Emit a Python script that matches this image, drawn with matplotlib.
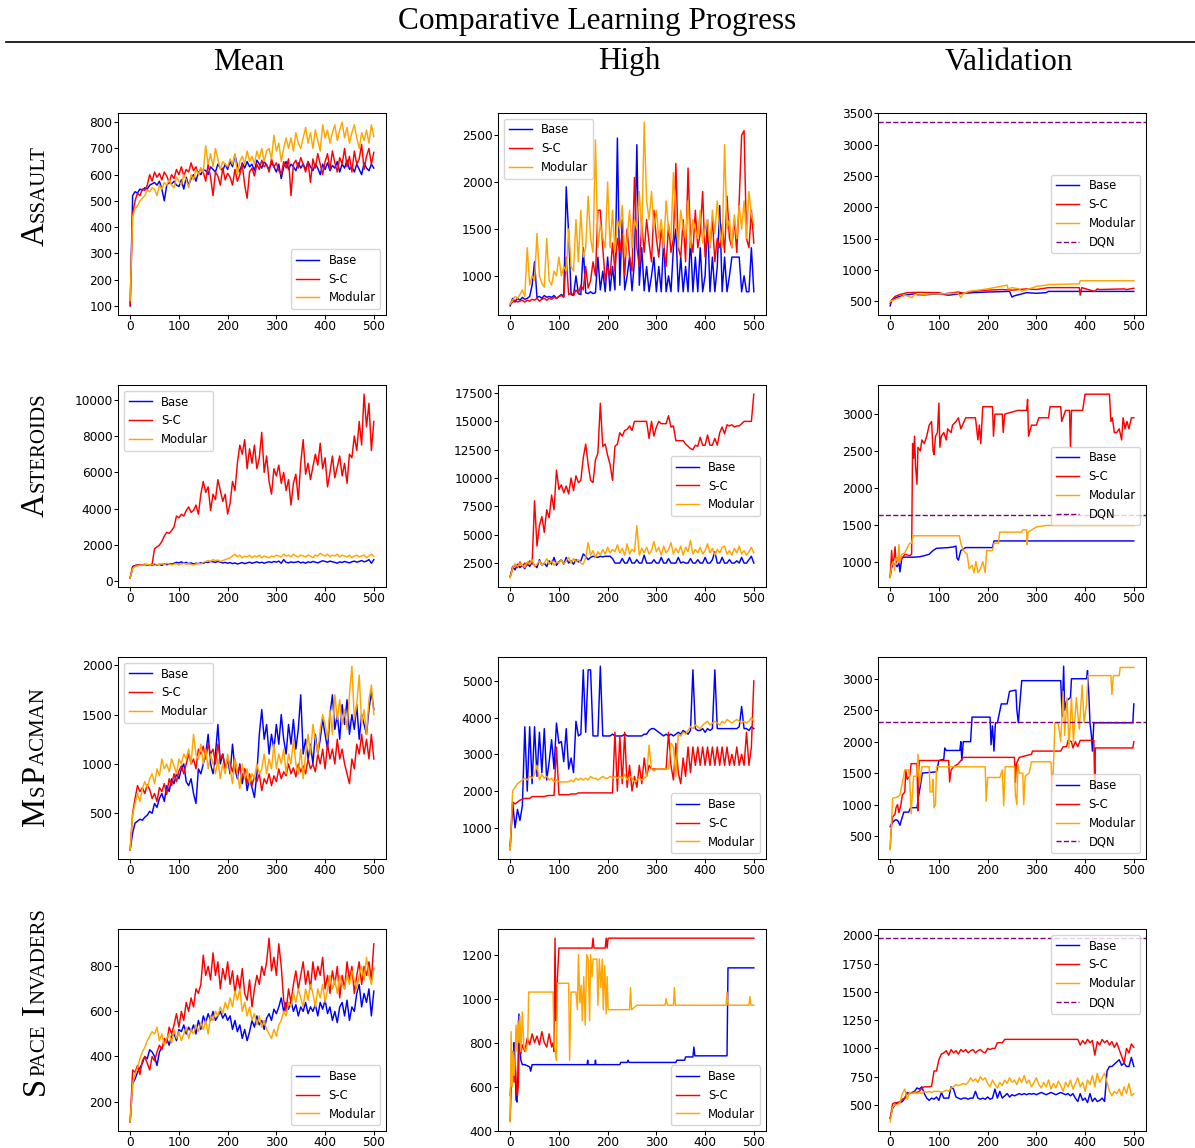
import numpy as np
import matplotlib
matplotlib.use("Agg")
import matplotlib.pyplot as plt
from matplotlib.lines import Line2D

W, H = 1195, 1148
SERIF = "Liberation Serif"

# ---------------- data (values every 5 episodes, 0..500) ----------------
assault_mean_base = [100,520,535,530,545,540,550,545,560,565, 570,560,575,545,500,560,570,565,575,560,
    555,580,545,590,560,585,600,575,610,600, 620,615,600,630,620,610,640,625,615,640,
    620,650,630,675,635,610,645,625,650,630, 640,615,655,640,625,650,635,620,645,630,
    610,640,585,630,650,620,640,630,615,645, 625,640,620,650,630,615,640,625,600,640,
    620,645,615,635,625,650,610,640,625,655, 620,630,610,640,620,600,645,625,615,640, 625]
assault_mean_sc = [100,450,500,530,520,545,540,560,600,575, 610,590,605,580,610,595,570,600,585,620,
    600,630,595,620,610,645,615,630,600,625, 610,575,640,590,520,610,595,560,625,580,
    605,590,560,620,575,600,640,560,510,610, 625,595,640,620,655,630,640,610,660,630,
    645,615,600,650,625,660,520,640,655,625, 665,640,610,650,570,660,625,680,640,600,
    650,680,620,690,645,610,665,640,700,630, 670,610,690,640,660,715,620,670,700,640, 685]
assault_mean_mod = [120,440,470,480,500,510,520,540,535,550, 545,520,560,545,570,560,580,560,550,590,
    575,560,600,580,550,600,580,620,600,625, 610,710,640,680,630,700,660,620,650,640,
    630,660,640,680,600,650,670,640,690,650, 670,640,690,660,700,650,690,700,660,750,
    690,720,650,700,740,700,740,690,760,720, 700,740,780,720,760,700,770,730,690,790,
    740,770,720,760,790,730,770,800,740,780, 720,760,790,740,700,760,730,770,720,790, 745]

assault_high_base = [680,760,720,760,740,770,750,760,780,900, 1150,770,780,760,790,770,780,770,790,760,
    780,800,780,1950,1450,800,790,1000,810,800, 1300,820,810,830,810,820,1200,850,1050,830,
    1200,840,1100,850,2470,900,1600,850,1000,1200, 840,1150,2400,900,1300,840,1100,830,1000,1200,
    830,1100,830,1400,830,1000,830,1300,1500,830, 1200,830,1100,830,1400,830,1200,830,1300,830,
    1000,1600,830,1200,830,1100,1750,830,1200,830, 1000,1200,1200,1200,1200,830,1000,830,830,1300, 830]
assault_high_sc = [700,720,740,720,730,740,720,740,730,750, 740,760,730,750,760,740,760,750,770,760,
    780,790,770,1200,800,820,790,850,810,900, 850,1100,870,950,1150,1000,1700,1700,1300,950,
    1100,1000,1350,1050,1400,1250,1450,1000,1500,1200, 1050,2050,1300,1100,1550,1250,1600,1350,1150,1700,
    1400,1200,1500,1300,1100,1550,1250,1400,2200,1300, 1200,1600,1150,2150,1400,1250,1700,1300,1450,1900,
    1200,1500,1300,1600,1150,1400,1300,1550,1250,1850, 1400,1300,1600,1250,1800,2500,2550,1400,1300,1700, 1350]
assault_high_mod = [700,740,780,760,800,850,780,1300,900,1000, 950,1450,1000,920,880,1400,950,900,1050,1000,
    1200,1000,1100,1050,1500,1100,1050,1600,1150,1700, 1200,1300,1850,1400,1250,2450,1300,1550,1400,1300,
    2000,1300,1700,1250,1600,1500,1750,1200,1400,1700, 1300,1600,1500,1900,1400,2640,1800,1600,1900,1500,
    1700,1400,1600,1300,1800,1500,1400,2100,1600,1300, 1700,1500,1400,1800,1300,1600,1500,1400,1700,1350,
    1500,1600,1300,1700,1450,1800,1500,1300,2400,1500, 1600,1300,1650,1400,1750,1500,1800,1400,1900,1650, 1550]

assault_val_base_x = [0,3,8,12,20,30,40,50,60,80,100,120,150,170,200,245,250,255,270,280,300,320,325,500]
assault_val_base_y = [430,520,540,560,580,600,610,620,600,610,620,600,630,640,650,660,570,590,620,640,630,640,660,660]
assault_val_sc_x = [0,5,10,20,35,60,100,110,140,150,170,200,230,250,280,300,325,388,390,393,420,425,430,480,485,500]
assault_val_sc_y = [470,540,580,610,640,645,640,620,650,630,660,680,690,680,700,690,720,720,600,720,660,700,690,700,690,710]
assault_val_mod_x = [0,10,20,30,45,50,60,80,100,140,145,150,160,200,240,242,250,265,270,300,320,325,388,390,500]
assault_val_mod_y = [500,530,560,600,560,610,600,620,620,630,560,620,660,700,760,700,720,700,660,740,760,770,780,830,830]

asteroids_mean_base = [200,820,880,900,920,880,930,900,920,880, 950,900,940,880,960,920,980,950,1000,1050,
    1020,1080,1000,1050,980,1020,960,1000,980,1030, 1000,1060,1050,1100,1080,1050,1100,1060,1020,1050,
    1000,1040,980,1020,960,1000,1040,980,1020,1060, 1000,1040,1080,1020,1060,1000,1050,1080,1040,1100,
    1060,1120,1000,1200,1050,1020,1080,1040,1060,1100, 1020,1060,1000,1080,1040,1100,1060,1020,1080,1140,
    1100,1060,1120,1080,1050,1000,1080,1040,1100,1060, 1020,1080,1120,1060,1100,1150,1080,1120,1200,1000, 1200]
asteroids_mean_sc = [200,780,850,900,920,880,950,900,920,950, 1800,1900,2000,2200,2500,2700,2650,2800,3000,3600,
    3500,3700,3600,3900,4100,3800,3900,4200,3700,4800, 5500,4900,5200,3900,4800,4500,5600,5000,4400,4800,
    3700,4300,5500,5000,6500,7500,7000,7800,6200,7300, 6500,7500,6200,6800,8200,6000,6900,5500,4800,6200,
    5800,6400,5400,6000,5000,5600,4200,5400,5900,4500, 6500,7800,5900,6500,5600,6300,7000,6400,7600,6200,
    6800,5200,6000,6900,5700,6300,6900,5800,6500,5400, 7000,6800,8000,7200,8800,7500,10300,8500,9800,7200, 8800]
asteroids_mean_mod = [200,700,820,850,900,880,920,950,900,930, 880,920,950,980,930,1000,960,900,950,980,
    920,960,1000,950,980,940,900,960,1000,960, 1050,1100,1150,1100,1200,1150,1180,1100,1150,1200,
    1250,1300,1400,1500,1350,1450,1300,1400,1350,1450, 1300,1400,1350,1450,1300,1400,1350,1300,1400,1350,
    1450,1400,1350,1500,1400,1450,1350,1500,1400,1350, 1450,1400,1350,1450,1400,1300,1450,1400,1550,1450,
    1400,1500,1350,1450,1400,1500,1350,1450,1400,1350, 1450,1300,1400,1450,1350,1400,1450,1300,1400,1500, 1380]

asteroids_high_base = [1300,2200,1900,2400,2100,2300,2000,2500,2200,2600, 2300,2100,2800,2300,2500,2200,2700,2400,3000,2300,
    2600,2800,2400,3000,2500,2700,2400,2800,2600,2700, 3300,3100,2800,3000,3100,3050,3000,3100,3050,3100,
    3100,3100,2900,2500,2500,2500,2900,2500,2500,3000, 2500,2500,2800,2500,2500,3200,2500,2500,2500,2800,
    2500,2500,3000,2500,2500,2900,2500,2500,2500,3000, 2500,2600,2500,2500,2900,2500,2500,2800,2500,2500,
    3000,2500,2500,2800,3500,2500,2500,3000,2500,2500, 2800,2500,2500,2700,2500,3000,2500,2500,2800,3100, 2500]
asteroids_high_sc = [1300,2000,2400,2100,2600,2200,2500,2300,2700,2400, 8000,4000,5800,6600,5200,7200,6500,8500,7200,10700,
    9000,9400,8700,9300,8600,10000,8900,10200,9600,9800, 11800,13000,11200,9800,9600,11600,12200,16600,12800,13000,
    12000,11200,9800,12800,13000,14000,13700,14200,14300,14600, 14200,15000,15000,15000,15000,15000,15000,13500,15000,13700,
    14500,15000,14800,14800,14800,15500,14500,14600,13300,13300, 13300,13300,13000,12800,12600,12500,12900,12800,13600,12900,
    12900,13800,12900,12900,13500,12900,14000,14500,13900,14700, 14600,14700,14500,14600,14600,14800,15000,15000,15000,15000, 17400]
asteroids_high_mod = [1200,2100,2400,2200,2500,2300,2100,2600,2400,2800, 2200,2400,2700,2300,2500,2900,2400,2700,2300,2600,
    2500,2800,2400,2700,3000,2500,2900,2600,2800,2500, 2400,3000,4300,3200,3600,3000,3500,3200,3700,3300,
    3900,3400,3700,3500,4100,3400,3800,3200,4200,3300, 3700,3500,5800,3200,3800,3400,3900,3300,3600,4400,
    3500,3900,3200,4000,3400,3700,4300,3300,3800,3400, 4000,3200,3900,3500,4500,3300,3700,3400,3900,3300,
    3600,4200,3400,3800,3200,3700,3400,3900,4000,3300, 3600,3200,3800,3400,4000,3300,3600,3200,3500,3900, 3400]

asteroids_val_base_x = [0,3,6,10,14,18,20,24,28,50,60,70,80,88,95,120,130,135,137,140,145,150,155,210,213,500]
asteroids_val_base_y = [790,920,950,970,930,980,860,1050,1060,1060,1065,1080,1100,1150,1180,1190,1200,1210,1050,1020,1150,1170,1190,1190,1280,1280]
asteroids_val_sc_x = [0,3,5,8,10,12,15,20,25,30,40,44,46,48,50,52,55,57,62,65,70,75,80,85,88,90,93,97,100,102,105,110,115,118,125,128,135,140,145,155,175,180,183,186,190,210,212,215,230,232,235,262,280,282,284,290,300,305,325,328,350,352,360,368,370,372,395,400,450,453,456,460,465,470,475,478,482,486,490,495,500]
asteroids_val_sc_y = [800,1150,950,1050,1200,980,1050,1000,1050,1100,1080,1100,2600,2400,2700,2300,2050,2550,2500,2650,2600,2700,2850,2900,2500,2450,2700,2750,3150,2550,2700,2750,2650,2800,2750,2850,2900,2950,2800,2950,2950,2650,2850,2600,3100,3100,2700,3000,3000,2750,3000,3050,3050,3200,2700,2850,2850,2950,2950,3100,3100,2900,3050,3050,2550,3050,3050,3270,3270,2900,2950,2750,2750,2800,2650,2950,2800,2900,2800,2950,2950]
asteroids_val_mod_x = [0,3,6,9,12,16,18,20,24,30,36,40,44,47,142,145,150,158,162,168,172,176,180,185,190,195,198,210,213,222,225,270,272,280,281,283,300,320,500]
asteroids_val_mod_y = [780,950,1000,880,1050,1000,1230,1000,1100,1120,1200,1250,1250,1350,1350,1250,1150,1100,900,950,850,1000,850,900,1000,850,1150,1150,1250,1250,1400,1400,1430,1430,1230,1400,1470,1490,1490]

mspacman_mean_base = [130,300,400,420,440,430,460,480,520,500, 600,560,650,700,620,780,720,850,800,900,
    850,950,1000,820,780,850,700,600,950,900, 1000,1100,1300,1000,900,1100,1400,1000,1100,950,
    1050,900,1200,950,850,1000,800,950,730,850, 760,660,900,1300,1550,1250,1400,1100,1300,1150,
    1400,1200,1500,1250,1100,1400,1200,1450,1150,1350, 1700,1100,1250,1050,1200,1000,1300,1100,1250,1450,
    1300,1150,1500,1700,1350,1500,1250,1600,1400,1650, 1300,1500,1350,1600,1250,1500,1400,1300,1550,1730, 1550]
mspacman_mean_sc = [130,500,650,780,720,760,700,790,740,650, 700,620,760,720,800,690,850,780,900,820,
    930,980,900,1000,1100,1000,1050,950,1150,1100, 1180,1050,1200,1100,1150,1000,1200,1050,1100,950,
    1050,1000,920,1050,900,980,870,950,800,900, 780,880,820,900,730,850,800,900,780,880,
    820,950,850,920,880,1000,900,960,870,1000, 920,980,900,1050,950,1000,920,1100,1000,1150,
    950,1200,1050,1150,1000,1250,1050,1150,1000,900, 800,1050,950,1200,1100,1300,1100,1250,1050,1300, 1050]
mspacman_mean_mod = [130,480,600,700,620,750,820,760,850,900, 800,950,880,1050,950,1000,920,1050,980,900,
    1050,1000,1100,1050,1150,1000,1300,1100,1050,1200, 1000,1150,950,1100,1000,900,1050,850,1000,900,
    1100,950,800,1050,900,750,1000,850,950,800, 900,850,1000,900,950,1100,900,1050,950,1200,
    950,1100,1000,1150,900,1100,1000,1250,1000,900, 1150,850,1100,1300,1100,1400,1250,1100,1350,1500,
    1400,1250,1550,1300,1700,1450,1650,1400,1550,1350, 1700,1990,1450,1600,1900,1400,1550,1300,1650,1800, 1500]

mspacman_high_base = [500,1700,1000,1500,1200,1600,3750,2000,3750,2200, 3750,2400,3600,2500,3700,2300,2800,3400,2600,3850,
    3300,3350,2800,3700,2600,2900,2500,3900,3500,3550, 5300,3600,5300,5300,3500,3500,3500,5400,3500,3500,
    3500,3500,3550,3500,3500,3500,3500,3550,3500,3500, 3500,3500,3500,3500,3500,3550,3550,3650,3700,3700,
    3650,3600,3550,3500,3550,3500,3550,3500,3550,3600, 3550,3650,3600,3550,3650,5300,3700,3650,3650,3700,
    3600,3700,3650,3700,5300,3700,3700,3700,3700,3700, 3700,3700,3700,3700,3750,4300,3700,3700,3650,3750, 3700]
mspacman_high_sc = [400,1700,1650,1700,1750,1780,1800,1800,1800,1850, 1850,1850,1850,1850,1850,1870,1880,1880,1880,3200,
    1900,1900,1900,1900,1900,1920,1920,1920,1950,1950, 1950,1950,1950,1950,1950,1950,1950,1950,1950,1950,
    1950,1950,1950,3600,2000,3500,2200,3600,2100,2700, 2000,2400,2100,2700,2200,2900,2400,2700,2600,2600,
    2600,2600,2600,2600,2600,3600,2700,2300,3300,2500, 2200,2900,2400,3200,2500,3200,2700,3200,2700,3200,
    2700,3200,2700,3200,2700,3200,2700,3200,2700,3200, 2700,3000,2700,3200,2700,3000,2700,3600,2700,3200, 5000]
mspacman_high_mod = [400,2000,2100,2200,2250,2300,2350,2300,2400,2350, 2450,2700,2300,2450,2350,2400,2300,2350,2250,2300,
    2250,2250,2250,2250,2250,2300,2250,2350,2300,2350, 2300,2350,2300,2400,2350,2350,2300,2350,2400,2350,
    2350,2400,2350,2400,2350,2400,2350,2450,2300,2400, 2350,2250,2300,2350,2300,2350,2400,3250,2600,2550,
    2600,2600,2600,2600,2600,2600,3300,3200,2400,3550, 3500,3600,3550,3650,3750,3700,3800,3750,3700,3800,
    3850,3900,3800,3850,3900,3850,3800,3900,3850,3950, 3900,3850,3900,3950,3900,3850,3900,3850,3900,4000, 3900]

mspacman_val_base_x = [0,3,8,12,16,20,24,28,38,42,55,58,62,66,95,100,110,112,115,143,145,147,150,165,168,205,207,210,213,216,220,228,240,245,258,260,263,266,270,350,353,356,358,362,370,372,403,405,408,410,413,415,418,498,500]
mspacman_val_base_y = [650,700,740,760,740,670,780,880,880,950,950,1120,1300,1500,1520,1700,1720,1900,1860,1860,2000,1700,2000,2000,2390,2390,1950,2250,1850,2300,2300,2600,2600,2800,2820,2500,2300,2600,2970,2970,2400,3200,2500,2650,2700,3000,3000,3130,2700,2300,2100,1850,2300,2300,2600]
mspacman_val_sc_x = [0,2,5,10,12,15,18,22,25,30,32,35,40,43,55,57,58,60,120,122,125,130,140,150,255,257,259,262,265,290,292,350,355,362,365,372,375,380,385,390,418,420,421,498,500]
mspacman_val_sc_y = [300,600,800,850,950,1000,870,1000,1150,1200,1550,1400,1450,1650,1650,900,1500,1700,1700,1360,1550,1600,1650,1750,1750,1350,1650,1700,1750,1800,1850,1850,1920,1920,2020,2000,1900,2000,1920,2020,2020,1200,1900,1900,2000]
mspacman_val_mod_x = [0,3,5,15,20,25,30,38,40,43,45,48,55,57,60,65,80,82,86,88,90,93,95,195,197,200,225,230,233,236,255,257,260,262,265,272,274,277,285,290,330,333,336,338,345,350,355,358,363,367,372,376,382,388,394,398,403,406,453,455,458,470,472,500]
mspacman_val_mod_y = [280,750,1100,1120,1150,1350,1550,1550,1400,850,1100,1450,1450,1800,1300,1600,1600,1200,1200,1400,950,1000,1600,1600,1050,1430,1430,1550,980,1600,1600,1150,1000,1650,1500,1500,1000,1450,1500,1680,1680,1200,1800,2300,2300,2000,2800,2100,2700,1900,2700,2000,2700,2200,2900,2300,2600,3050,3050,2750,3050,3050,3180,3180]

spaceinv_mean_base = [110,280,300,330,350,370,400,390,430,420, 400,360,420,440,460,480,450,490,500,470,
    520,510,540,500,530,510,540,500,560,520, 580,550,590,560,600,560,580,600,570,590,
    560,580,520,560,510,540,480,520,470,510, 560,530,580,540,560,520,570,590,560,610,
    590,620,660,600,640,610,650,600,630,580, 620,600,640,590,620,600,630,580,640,610,
    650,590,620,560,600,550,620,640,580,650, 560,620,600,680,720,620,680,640,700,580, 690]
spaceinv_mean_sc = [110,340,330,360,320,380,400,370,340,400, 380,420,450,430,480,460,530,500,540,590,
    530,600,560,640,600,660,620,700,680,720, 850,760,800,740,860,760,820,700,790,740,
    820,720,780,680,760,700,790,680,650,740, 620,700,760,720,800,760,820,925,780,840,
    760,900,800,650,600,700,640,720,780,700, 760,820,720,780,700,820,740,800,760,840,
    700,760,680,780,720,800,660,760,700,820, 740,800,680,760,820,720,800,760,820,740, 900]
spaceinv_mean_mod = [110,280,320,350,390,420,440,470,490,510, 500,530,470,500,450,480,500,460,520,480,
    510,470,500,530,480,520,500,540,510,550, 520,560,500,580,560,600,580,620,590,640,
    610,660,620,690,650,700,600,640,580,620, 560,590,540,580,530,560,520,500,480,520,
    490,540,560,600,580,640,620,680,640,700, 660,620,700,650,720,680,620,700,660,720,
    640,700,760,700,740,680,760,720,700,760, 720,780,740,700,760,800,740,840,760,720, 790]

spaceinv_high_base_x = [0,2,4,6,8,10,12,14,16,18,20,22,25,30,40,42,45,158,159,160,174,175,176,225,227,240,242,244,340,342,358,360,375,377,379,445,447,500]
spaceinv_high_base_y = [445,620,760,700,800,760,540,530,650,930,780,720,700,700,690,670,700,700,720,700,700,720,700,700,710,710,720,710,710,720,720,735,735,780,740,740,1140,1140]
spaceinv_high_sc_x = [0,3,5,8,10,13,15,17,19,22,25,30,35,40,45,50,55,60,65,70,75,80,85,88,90,92,94,96,100,168,170,172,195,197,199,201,500]
spaceinv_high_sc_y = [560,680,750,620,720,580,560,620,850,750,790,760,820,790,840,800,830,790,850,800,780,840,780,800,760,1275,900,1050,1230,1230,1275,1230,1230,1275,1230,1275,1275]
spaceinv_high_mod_x = [0,2,4,6,8,10,12,14,16,18,20,22,25,28,32,36,38,88,90,93,95,97,120,122,125,135,138,140,143,146,148,151,154,157,160,163,165,168,170,178,180,183,186,189,191,194,197,199,201,245,247,249,260,318,320,323,335,337,339,443,445,447,490,492,494,500]
spaceinv_high_mod_y = [440,850,600,760,650,720,880,760,900,800,920,760,940,780,760,800,1030,1030,800,750,720,1070,1070,720,1030,1030,950,1200,980,1060,900,1100,880,1200,1180,900,1200,1100,1180,1180,970,1180,1050,1180,950,1150,930,1100,950,950,1050,950,970,970,1000,970,970,1050,970,970,1030,970,970,1010,970,970]

spaceinv_val_base = [380,470,500,520,520,530,560,610,600,610, 620,650,640,660,600,560,540,560,550,570,
    540,610,560,560,560,660,640,570,560,550, 560,560,550,560,560,620,560,550,560,550,
    570,550,560,640,560,620,560,580,600,570, 590,580,590,600,590,600,590,600,595,600,
    590,600,610,600,590,600,610,600,590,600, 610,600,590,600,580,600,560,530,600,540,
    560,520,600,530,560,530,540,560,530,800, 840,840,860,880,900,850,870,840,840,920, 840]
spaceinv_val_sc = [380,510,520,520,530,550,560,600,605,605, 610,610,620,650,660,660,660,665,800,800,
    900,950,960,980,940,990,960,980,950,990, 970,990,960,980,990,960,980,990,970,960,
    1000,990,1000,1000,1050,1050,1050,1080,1080,1080, 1080,1080,1080,1080,1080,1080,1080,1080,1080,1080,
    1080,1080,1080,1080,1080,1080,1080,1080,1080,1080, 1080,1080,1080,1080,1080,1080,1080,1080,1030,1070,
    1040,1080,1050,1070,940,1060,1030,1080,1050,1070, 1030,1060,1010,1050,990,930,870,1000,960,1040, 1010]
spaceinv_val_mod = [350,480,500,500,520,600,640,550,610,600, 610,600,610,600,620,610,620,610,620,620,
    620,610,620,630,620,650,660,680,670,680, 690,680,700,740,710,730,700,750,720,740,
    690,660,720,680,650,700,670,720,690,740, 700,720,680,740,700,760,690,720,660,700,
    740,680,650,700,660,720,640,690,650,710, 670,620,700,660,720,640,690,740,660,700,
    620,720,680,760,660,780,700,740,780,700, 620,580,620,600,640,580,660,600,690,580, 600]

dqn_scores = {"Assault": 3359, "Asteroids": 1629, "MsPacman": 2311, "Space Invaders": 1976}
games = ["Assault", "Asteroids", "MsPacman", "Space Invaders"]
columns = ["Mean", "High", "Validation"]
labels = ["Base", "S-C", "Modular"]
colors = {"Base": "blue", "S-C": "red", "Modular": "orange"}


def ep(vals):
    return np.linspace(0, 500, len(vals))


series = {
    ("Assault", "Mean"): [(ep(assault_mean_base), assault_mean_base), (ep(assault_mean_sc), assault_mean_sc), (ep(assault_mean_mod), assault_mean_mod)],
    ("Assault", "High"): [(ep(assault_high_base), assault_high_base), (ep(assault_high_sc), assault_high_sc), (ep(assault_high_mod), assault_high_mod)],
    ("Assault", "Validation"): [(assault_val_base_x, assault_val_base_y), (assault_val_sc_x, assault_val_sc_y), (assault_val_mod_x, assault_val_mod_y)],
    ("Asteroids", "Mean"): [(ep(asteroids_mean_base), asteroids_mean_base), (ep(asteroids_mean_sc), asteroids_mean_sc), (ep(asteroids_mean_mod), asteroids_mean_mod)],
    ("Asteroids", "High"): [(ep(asteroids_high_base), asteroids_high_base), (ep(asteroids_high_sc), asteroids_high_sc), (ep(asteroids_high_mod), asteroids_high_mod)],
    ("Asteroids", "Validation"): [(asteroids_val_base_x, asteroids_val_base_y), (asteroids_val_sc_x, asteroids_val_sc_y), (asteroids_val_mod_x, asteroids_val_mod_y)],
    ("MsPacman", "Mean"): [(ep(mspacman_mean_base), mspacman_mean_base), (ep(mspacman_mean_sc), mspacman_mean_sc), (ep(mspacman_mean_mod), mspacman_mean_mod)],
    ("MsPacman", "High"): [(ep(mspacman_high_base), mspacman_high_base), (ep(mspacman_high_sc), mspacman_high_sc), (ep(mspacman_high_mod), mspacman_high_mod)],
    ("MsPacman", "Validation"): [(mspacman_val_base_x, mspacman_val_base_y), (mspacman_val_sc_x, mspacman_val_sc_y), (mspacman_val_mod_x, mspacman_val_mod_y)],
    ("Space Invaders", "Mean"): [(ep(spaceinv_mean_base), spaceinv_mean_base), (ep(spaceinv_mean_sc), spaceinv_mean_sc), (ep(spaceinv_mean_mod), spaceinv_mean_mod)],
    ("Space Invaders", "High"): [(spaceinv_high_base_x, spaceinv_high_base_y), (spaceinv_high_sc_x, spaceinv_high_sc_y), (spaceinv_high_mod_x, spaceinv_high_mod_y)],
    ("Space Invaders", "Validation"): [(ep(spaceinv_val_base), spaceinv_val_base), (ep(spaceinv_val_sc), spaceinv_val_sc), (ep(spaceinv_val_mod), spaceinv_val_mod)],
}

legend_locs = {
    ("Assault", "Mean"): "lower right", ("Assault", "High"): "upper left", ("Assault", "Validation"): "center right",
    ("Asteroids", "Mean"): "upper left", ("Asteroids", "High"): "center right", ("Asteroids", "Validation"): "center right",
    ("MsPacman", "Mean"): "upper left", ("MsPacman", "High"): "lower right", ("MsPacman", "Validation"): "lower right",
    ("Space Invaders", "Mean"): "lower right", ("Space Invaders", "High"): "lower right", ("Space Invaders", "Validation"): "upper right",
}

# ---------------- styling ----------------
plt.rcParams.update({
    "font.family": "DejaVu Sans",
    "font.size": 8.7,
    "legend.fontsize": 8.4,
    "axes.linewidth": 0.75,
    "xtick.major.size": 2.6, "ytick.major.size": 2.6,
    "xtick.major.width": 0.75, "ytick.major.width": 0.75,
    "xtick.major.pad": 1.2, "ytick.major.pad": 1.4,
})

fig = plt.figure(figsize=(W / 100, H / 100), dpi=100)

col_left = [118, 498, 878]
row_top = [113, 385, 657, 929]
AW, AH = 268, 202
LW = 1.05

for r, g in enumerate(games):
    for c, col in enumerate(columns):
        ax = fig.add_axes([col_left[c] / W, 1 - (row_top[r] + AH) / H, AW / W, AH / H])
        for (x, y), lab in zip(series[(g, col)], labels):
            ax.plot(x, y, color=colors[lab], lw=LW, label=lab)
        if col == "Validation":
            ax.axhline(dqn_scores[g], color="purple", ls="--", lw=1.0, label="DQN")
        ax.set_xticks([0, 100, 200, 300, 400, 500])
        ax.legend(loc=legend_locs[(g, col)])

# title, rule and column headers
fig.text(0.5, 1 - 22 / H, "Comparative Learning Progress", ha="center", va="center",
         fontsize=22.5, family=SERIF)
fig.add_artist(Line2D([6 / W, 1.0], [1 - 42 / H, 1 - 42 / H], color="black", lw=1.2))
for c, col in enumerate(columns):
    fig.text((col_left[c] + AW / 2 - 3) / W, 1 - 62 / H, col, ha="center", va="center",
             fontsize=22.5, family=SERIF)

# small-caps row labels
renderer = fig.canvas.get_renderer()
BIG, SMALL = 23.5, 15
row_label_center = [195, 454, 756, 1001]


def smallcaps(text, cy):
    runs = []
    for ch in text:
        if ch == " ":
            sz = None
            s = " "
        elif ch.isupper():
            sz, s = BIG, ch
        else:
            sz, s = SMALL, ch.upper()
        if runs and runs[-1][1] == sz and sz is not None:
            runs[-1][0] += s
        else:
            runs.append([s, sz])
    widths = []
    for s, sz in runs:
        if sz is None:
            widths.append(BIG * 100 / 72 * 0.26)
        else:
            t = fig.text(0, 0, s, fontsize=sz, family=SERIF)
            widths.append(t.get_window_extent(renderer).width + 1.0)
            t.remove()
    total = sum(widths)
    y = (H - cy) - total / 2
    for (s, sz), w in zip(runs, widths):
        if sz is not None:
            fig.text(44 / W, y / H, s, fontsize=sz, family=SERIF, rotation=90,
                     rotation_mode="anchor", ha="left", va="baseline")
        y += w


for r, g in enumerate(games):
    smallcaps(g, row_label_center[r])

fig.savefig("out.png", dpi=100)
